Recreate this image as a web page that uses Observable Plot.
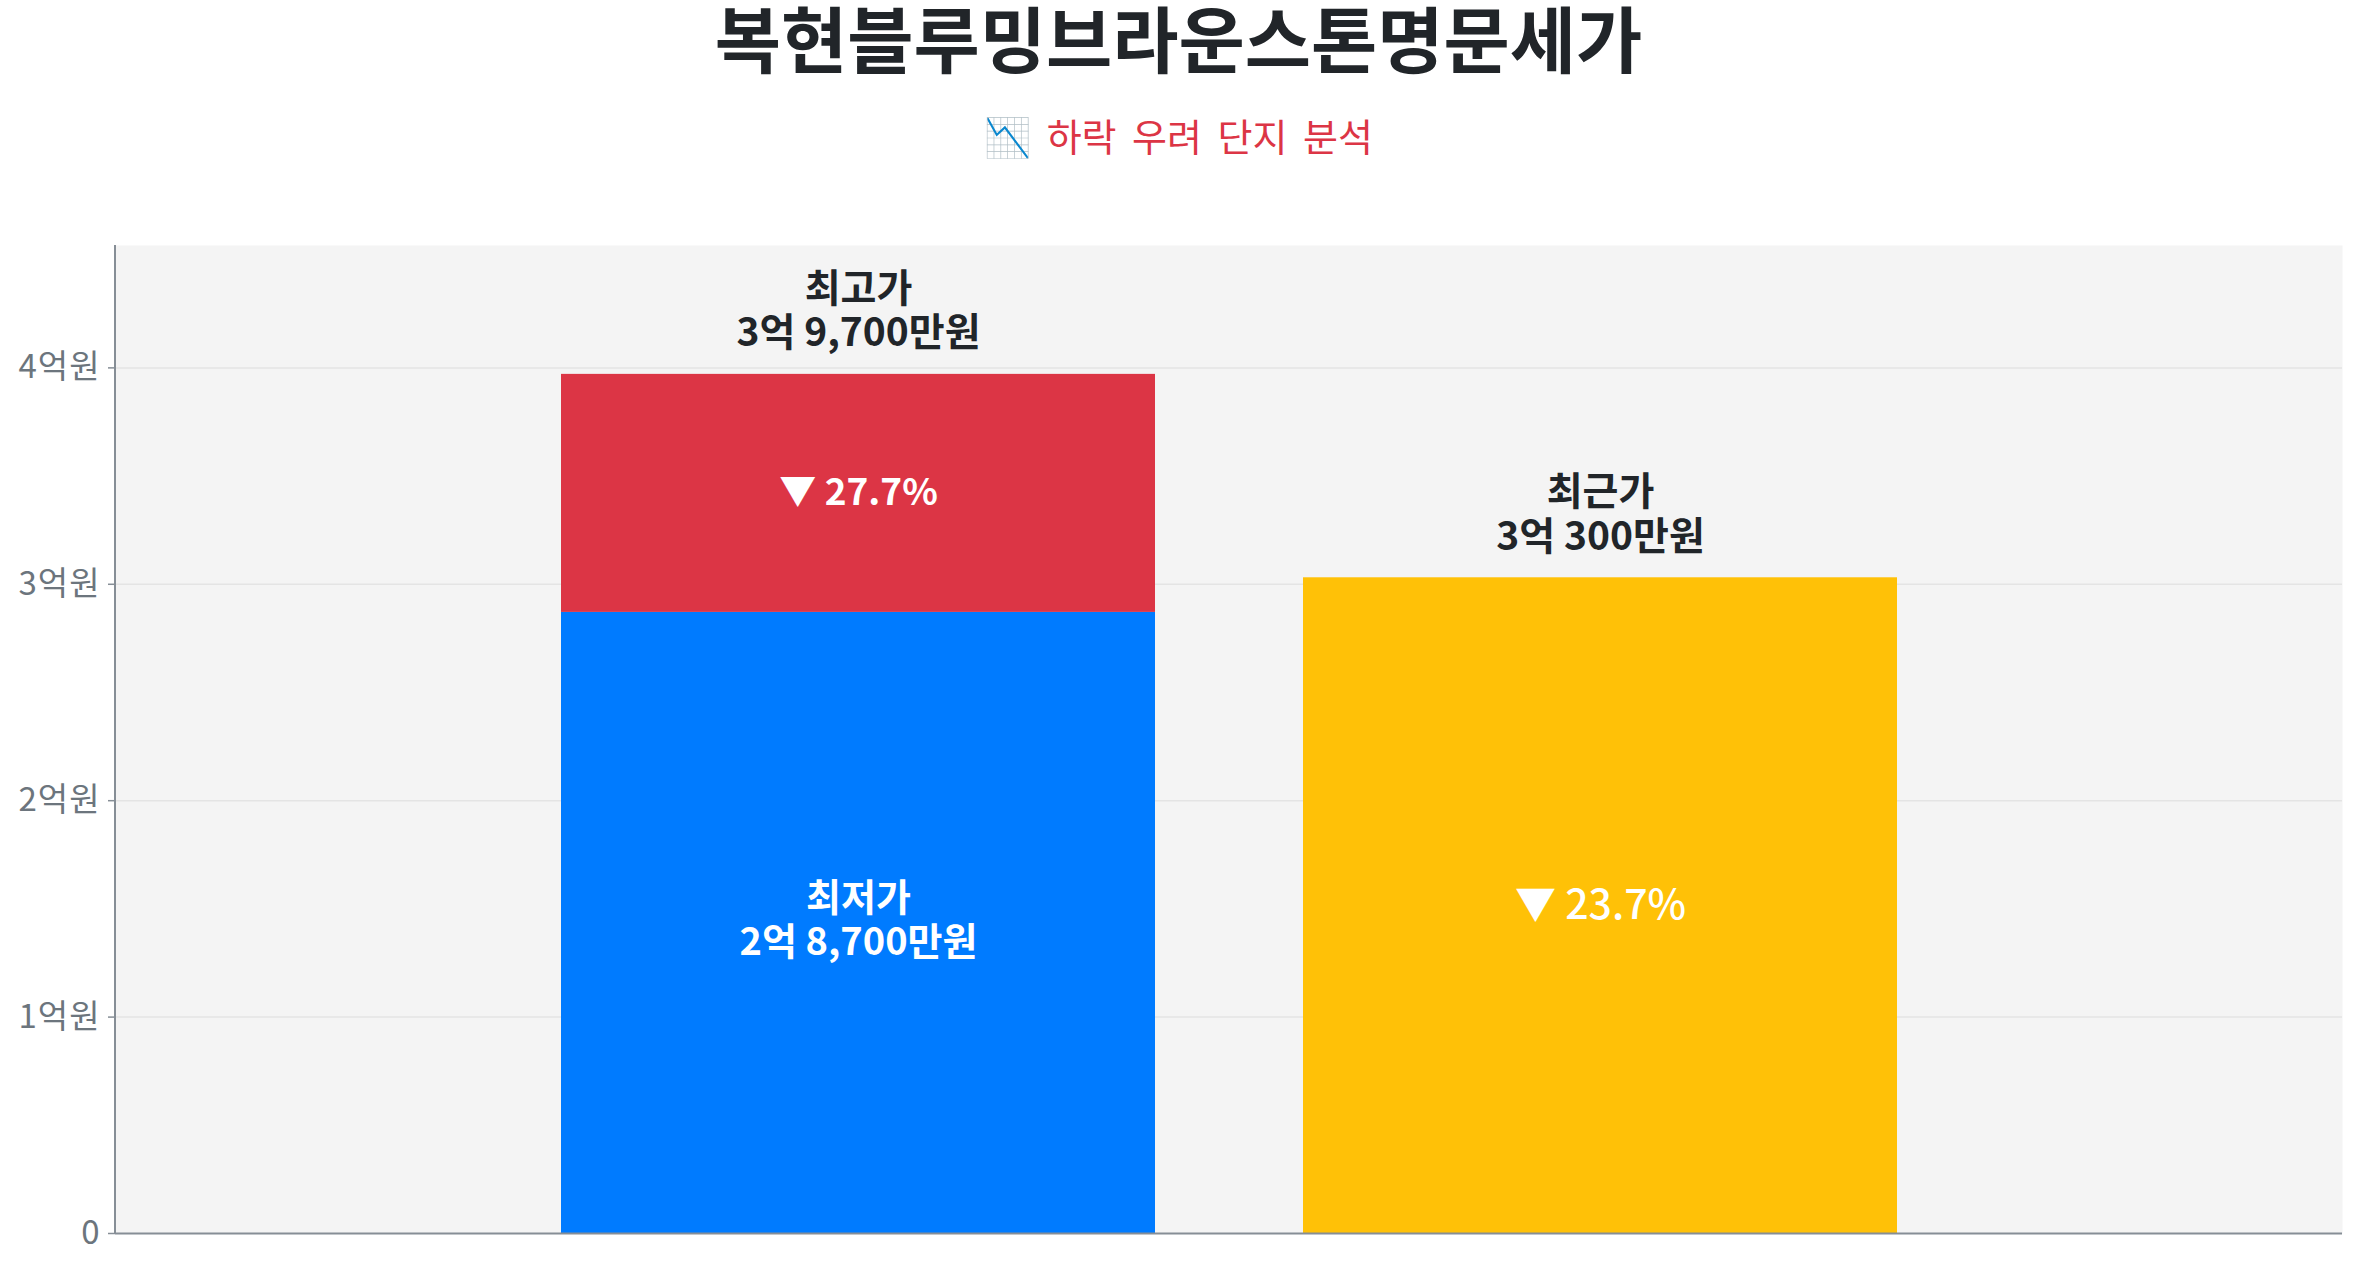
<!DOCTYPE html>
<html>
<head>
<meta charset="utf-8">
<script src="https://cdn.jsdelivr.net/npm/d3@7"></script>
<script src="https://cdn.jsdelivr.net/npm/@observablehq/plot@0.6"></script>
<style>
  html, body { margin: 0; padding: 0; background: #fff; overflow: hidden; }
  body { width: 2357px; height: 1268px; font-family: 'Noto Sans CJK KR', 'Noto Sans', sans-serif; }
  #header { position: relative; width: 2357px; height: 200px; }
  #title { position: absolute; left: 0; width: 100%; top: 0px; text-align: center; font-size: 72px; line-height: 1; font-weight: 700; color: #212529; white-space: nowrap; }
  #subtitle { position: absolute; left: 0; width: 100%; top: 116px; text-align: center; font-size: 38px; line-height: 1; font-weight: 400; color: #dc3545; white-space: nowrap; word-spacing: 7px; }
  #chart svg { display: block; }
  #chart g[aria-label="y-axis tick label"] text { letter-spacing: 1px; }
</style>
</head>
<body>
<div id="header">
  <div id="title">복현블루밍브라운스톤명문세가</div>
  <div id="subtitle">📉 하락 우려 단지 분석</div>
</div>
<div id="chart"></div>
<script>
// ---- data (억원) ----
const barGroups = ["최고·최저가", "최근가"];
const priceNames = ["최저가", "최고가", "최근가"];
const prices = [2.87, 3.97, 3.03];
const yTicks = [0, 1, 2, 3, 4];
const segmentColors = ["#007bff", "#dc3545", "#ffc107"];

const [low, high, recent] = prices;
const fmtMan = d3.format(",");
function won(v) {
  const eok = Math.floor(v + 1e-9);
  const man = Math.round((v - eok) * 10000);
  return man > 0 ? `${eok}억 ${fmtMan(man)}만원` : `${eok}억원`;
}
const dropHL = ((high - low) / high * 100).toFixed(1);
const dropHR = ((high - recent) / high * 100).toFixed(1);

const segments = [
  {group: barGroups[0], name: priceNames[0], y1: 0, y2: low},
  {group: barGroups[0], name: priceNames[1], y1: low, y2: high},
  {group: barGroups[1], name: priceNames[2], y1: 0, y2: recent}
];
const topLabels = [
  {group: barGroups[0], y: high, text: `${priceNames[1]}\n${won(high)}`},
  {group: barGroups[1], y: recent, text: `${priceNames[2]}\n${won(recent)}`}
];

const FONT = "'Noto Sans CJK KR', 'Noto Sans', sans-serif";

const chart = Plot.plot({
  width: 2357,
  height: 1068,
  marginTop: 45,
  marginBottom: 35,
  marginLeft: 115,
  marginRight: 15,
  style: {fontFamily: FONT, background: "#ffffff"},
  x: {domain: barGroups, paddingInner: 0.2, paddingOuter: 0.6, axis: null},
  y: {domain: [0, high * 1.15], axis: null},
  color: {domain: priceNames, range: segmentColors},
  marks: [
    Plot.frame({fill: "#f4f4f4", stroke: null}),
    Plot.gridY(yTicks.slice(1), {stroke: "#e4e4e4", strokeOpacity: 1, strokeWidth: 1.5}),
    Plot.barY(segments, {x: "group", y1: "y1", y2: "y2", fill: "name", inset: 0}),
    Plot.axisY({
      ticks: yTicks,
      tickFormat: d => d === 0 ? "0" : `${d}억원`,
      tickSize: 7,
      tickPadding: 8,
      fontSize: 33,
      fontFamily: FONT,
      stroke: "#868e96",
      strokeWidth: 1.5,
      fill: "#6c757d"
    }),
    Plot.ruleY([0], {stroke: "#868e96", strokeWidth: 2}),
    (index, scales, values, dims) => {
      const line = document.createElementNS("http://www.w3.org/2000/svg", "line");
      line.setAttribute("x1", dims.marginLeft);
      line.setAttribute("x2", dims.marginLeft);
      line.setAttribute("y1", dims.marginTop);
      line.setAttribute("y2", dims.height - dims.marginBottom);
      line.setAttribute("stroke", "#868e96");
      line.setAttribute("stroke-width", 2);
      return line;
    },
    // labels above bars
    Plot.text(topLabels, {
      x: "group", y: "y", text: "text",
      lineAnchor: "bottom", lineHeight: 1.15, dy: -28,
      fontSize: 39, fontWeight: 700, fill: "#212529", fontFamily: FONT
    }),
    // red segment percent
    Plot.text([{group: barGroups[0], y: (low + high) / 2, text: `▼ ${dropHL}%`}], {
      x: "group", y: "y", text: "text",
      fontSize: 37, fontWeight: 700, fill: "#ffffff", fontFamily: FONT
    }),
    // blue segment label
    Plot.text([{group: barGroups[0], y: low / 2, text: `${priceNames[0]}\n${won(low)}`}], {
      x: "group", y: "y", text: "text",
      lineHeight: 1.15, dy: -4,
      fontSize: 38, fontWeight: 700, fill: "#ffffff", fontFamily: FONT
    }),
    // yellow percent
    Plot.text([{group: barGroups[1], y: recent / 2, text: `▼ ${dropHR}%`}], {
      x: "group", y: "y", text: "text",
      fontSize: 41, fontWeight: 500, fill: "#ffffff", fontFamily: FONT
    })
  ]
});
document.getElementById("chart").appendChild(chart);
</script>
</body>
</html>
